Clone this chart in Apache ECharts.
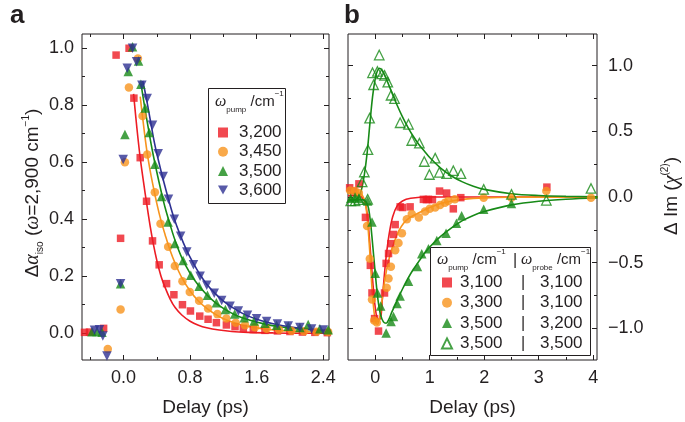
<!DOCTYPE html>
<html><head><meta charset="utf-8">
<script src="https://cdn.jsdelivr.net/npm/echarts@6/dist/echarts.min.js"></script>
<style>html,body{margin:0;padding:0;background:#fff}#c{width:685px;height:422px}</style>
</head><body><div id="c"></div><script>
// ---------------- DATA ----------------
// Panel a : Δα_iso, legend ω_pump /cm-1
const aNames = ['3,200', '3,450', '3,500', '3,600'];
const aRed = [[-0.47,0.003],[-0.41,0.004],[-0.24,0.017],[-0.09,0.976],[-0.036,0.333],[0.066,1.0],[0.124,0.825],[0.2,0.616],[0.276,0.463],[0.348,0.324],[0.428,0.24],[0.517,0.174],[0.605,0.135],[0.708,0.1],[0.804,0.078],[0.916,0.06],[1.016,0.049],[1.116,0.037],[1.236,0.029],[1.34,0.023],[1.44,0.017],[1.56,0.013],[1.7,0.01],[1.85,0.008],[2.0,0.006],[2.15,0.004],[2.3,0.003],[2.45,0.002]];
const aOrange = [[-0.19,-0.055],[-0.036,0.083],[0.016,0.6],[0.064,0.862],[0.172,0.964],[0.228,0.762],[0.284,0.627],[0.376,0.495],[0.444,0.384],[0.536,0.303],[0.616,0.236],[0.708,0.182],[0.796,0.145],[0.908,0.114],[1.016,0.087],[1.128,0.067],[1.236,0.052],[1.348,0.037],[1.46,0.028],[1.58,0.021],[1.72,0.016],[1.87,0.012],[2.02,0.009],[2.17,0.007],[2.32,0.005],[2.46,0.004]];
const aGreen = [[-0.38,0.005],[-0.32,0.006],[-0.26,0.003],[-0.036,0.174],[0.016,0.697],[0.056,0.918],[0.108,1.005],[0.18,0.955],[0.208,0.874],[0.26,0.79],[0.308,0.704],[0.376,0.593],[0.456,0.48],[0.536,0.39],[0.616,0.315],[0.716,0.255],[0.808,0.203],[0.908,0.165],[1.008,0.133],[1.116,0.107],[1.224,0.083],[1.336,0.067],[1.45,0.054],[1.57,0.043],[1.7,0.035],[1.84,0.028],[1.98,0.024],[2.12,0.02],[2.22,0.031],[2.36,0.016],[2.46,0.012]];
const aBlue = [[-0.35,0.01],[-0.29,0.012],[-0.25,-0.01],[-0.2,-0.08],[-0.036,0.174],[-0.005,0.61],[0.044,0.93],[0.108,1.0],[0.156,0.953],[0.22,0.87],[0.284,0.824],[0.348,0.73],[0.416,0.63],[0.476,0.55],[0.54,0.47],[0.61,0.4],[0.686,0.34],[0.76,0.285],[0.84,0.24],[0.92,0.2],[1.0,0.168],[1.09,0.14],[1.18,0.115],[1.28,0.095],[1.38,0.078],[1.49,0.063],[1.6,0.051],[1.72,0.041],[1.85,0.032],[1.98,0.025],[2.12,0.02],[2.26,0.015],[2.4,0.011]];
const aFitRed = [[0.12,0.84],[0.16,0.72],[0.2,0.615],[0.24,0.53],[0.28,0.45],[0.32,0.375],[0.36,0.31],[0.4,0.255],[0.45,0.2],[0.5,0.16],[0.56,0.12],[0.62,0.09],[0.7,0.064],[0.8,0.042],[0.9,0.028],[1.0,0.019],[1.15,0.011],[1.3,0.006],[1.5,0.003],[1.8,0.001],[2.1,0.0],[2.47,0.0]];
const aFitOrange = [[0.2,0.83],[0.24,0.73],[0.28,0.64],[0.32,0.57],[0.36,0.51],[0.4,0.455],[0.45,0.395],[0.5,0.345],[0.56,0.29],[0.62,0.245],[0.7,0.195],[0.8,0.148],[0.9,0.113],[1.0,0.087],[1.1,0.067],[1.2,0.051],[1.35,0.035],[1.5,0.024],[1.7,0.015],[1.9,0.009],[2.1,0.006],[2.3,0.004],[2.47,0.003]];
const aFitGreen = [[0.21,0.875],[0.25,0.8],[0.3,0.715],[0.35,0.635],[0.4,0.565],[0.45,0.5],[0.5,0.44],[0.56,0.38],[0.62,0.325],[0.7,0.265],[0.8,0.21],[0.9,0.168],[1.0,0.135],[1.1,0.108],[1.2,0.087],[1.35,0.063],[1.5,0.047],[1.7,0.032],[1.9,0.022],[2.1,0.015],[2.3,0.011],[2.47,0.008]];
const aFitBlue = [[0.23,0.885],[0.27,0.83],[0.32,0.75],[0.37,0.67],[0.42,0.605],[0.48,0.535],[0.54,0.47],[0.6,0.41],[0.68,0.345],[0.76,0.29],[0.84,0.245],[0.92,0.205],[1.0,0.172],[1.1,0.14],[1.2,0.113],[1.35,0.083],[1.5,0.06],[1.7,0.04],[1.9,0.027],[2.1,0.018],[2.3,0.012],[2.47,0.009]];

// Panel b : Δ Im(χ(2)), legend ω_pump | ω_probe
const bNames = ['3,100|3,100', '3,300|3,100', '3,500|3,200', '3,500|3,500'];
const bRed = [[-0.47,0.07],[-0.4,0.045],[-0.3,0.1],[-0.18,-0.155],[-0.09,-0.52],[-0.06,-0.73],[-0.012,-0.925],[0.06,-1.02],[0.17,-0.73],[0.2,-0.505],[0.244,-0.43],[0.287,-0.355],[0.335,-0.285],[0.366,-0.21],[0.457,-0.075],[0.5,-0.08],[0.64,-0.075],[0.884,-0.018],[0.94,-0.02],[0.976,-0.018],[1.05,-0.02],[1.18,0.045],[1.31,0.03],[1.433,-0.09],[1.57,-0.005],[3.15,0.075]];
const bOrange = [[-0.46,0.05],[-0.37,0.045],[-0.3,0.03],[-0.15,-0.22],[-0.1,-0.47],[-0.06,-0.78],[-0.02,-0.94],[0.03,-0.955],[0.21,-0.69],[0.244,-0.62],[0.287,-0.53],[0.366,-0.405],[0.427,-0.35],[0.49,-0.275],[0.58,-0.17],[0.67,-0.13],[0.8,-0.155],[0.915,-0.11],[1.0,-0.09],[1.1,-0.08],[1.19,-0.06],[1.28,-0.043],[1.34,-0.03],[1.46,-0.018],[1.99,-0.005],[2.5,-0.005],[3.14,0.045],[3.96,-0.005]];
const bGreen = [[-0.45,-0.01],[-0.37,0.0],[-0.3,-0.01],[-0.14,-0.03],[-0.06,-0.19],[0.0,-0.58],[0.04,-0.73],[0.1,-0.83],[0.2,-1.035],[0.29,-0.947],[0.335,-0.91],[0.4,-0.81],[0.457,-0.754],[0.61,-0.64],[0.774,-0.528],[0.854,-0.432],[0.976,-0.394],[1.13,-0.33],[1.3,-0.276],[1.49,-0.2],[1.585,-0.143],[1.99,-0.093],[2.5,-0.05]];
const bOpen = [[-0.45,-0.03],[-0.37,-0.03],[-0.3,-0.02],[-0.24,0.115],[-0.2,0.19],[-0.14,-0.018],[-0.134,0.36],[-0.104,0.6],[-0.05,0.945],[-0.03,0.854],[0.04,0.955],[0.073,1.08],[0.12,0.937],[0.17,0.925],[0.23,0.874],[0.29,0.774],[0.354,0.749],[0.457,0.565],[0.61,0.553],[0.67,0.43],[0.81,0.41],[0.9,0.27],[0.994,0.171],[1.1,0.296],[1.177,0.188],[1.31,0.178],[1.433,0.2],[1.573,0.178],[1.99,0.058],[2.5,0.02],[3.14,-0.025],[3.96,0.065]];
const bFitRed = [[-0.5,0.01],[-0.3,0.01],[-0.2,-0.03],[-0.15,-0.12],[-0.1,-0.35],[-0.05,-0.62],[0.0,-0.84],[0.05,-0.93],[0.09,-0.93],[0.13,-0.78],[0.17,-0.58],[0.21,-0.42],[0.26,-0.27],[0.32,-0.15],[0.4,-0.07],[0.5,-0.03],[0.65,-0.01],[1.0,0.0],[2.0,0.0],[4.08,0.0]];
const bFitOrange = [[-0.5,0.03],[-0.3,0.03],[-0.2,-0.02],[-0.15,-0.15],[-0.1,-0.42],[-0.05,-0.75],[0.0,-0.94],[0.04,-0.97],[0.08,-0.92],[0.12,-0.8],[0.17,-0.65],[0.22,-0.53],[0.28,-0.43],[0.35,-0.34],[0.43,-0.26],[0.52,-0.2],[0.62,-0.16],[0.75,-0.13],[0.9,-0.1],[1.0,-0.08],[1.2,-0.05],[1.4,-0.03],[1.6,-0.018],[2.0,-0.007],[2.5,-0.002],[4.08,0.0]];
const bFitGreen = [[-0.5,-0.02],[-0.25,-0.02],[-0.15,-0.05],[-0.1,-0.15],[-0.05,-0.35],[0.0,-0.58],[0.05,-0.78],[0.1,-0.9],[0.15,-0.95],[0.2,-0.96],[0.25,-0.93],[0.3,-0.88],[0.4,-0.79],[0.5,-0.7],[0.6,-0.62],[0.7,-0.55],[0.8,-0.49],[0.9,-0.43],[1.0,-0.38],[1.2,-0.3],[1.4,-0.235],[1.6,-0.18],[1.8,-0.14],[2.0,-0.11],[2.5,-0.06],[3.0,-0.032],[3.5,-0.017],[4.08,-0.008]];
const bFitOpen = [[-0.5,-0.03],[-0.35,-0.02],[-0.3,0.0],[-0.25,0.06],[-0.2,0.17],[-0.15,0.33],[-0.1,0.55],[-0.05,0.76],[0.0,0.9],[0.04,0.96],[0.08,0.98],[0.13,0.96],[0.2,0.9],[0.3,0.8],[0.4,0.7],[0.5,0.61],[0.6,0.53],[0.7,0.46],[0.8,0.4],[0.9,0.35],[1.0,0.3],[1.2,0.22],[1.4,0.16],[1.6,0.115],[1.8,0.082],[2.0,0.058],[2.5,0.025],[3.0,0.011],[3.5,0.005],[4.08,0.002]];

// Tick values
const aXTicks = [0, 0.8, 1.6, 2.4];
const aXMinor = [-0.4, 0.4, 1.2, 2.0];
const aYTicks = [0, 0.2, 0.4, 0.6, 0.8, 1.0];
const aYMinor = [0.1, 0.3, 0.5, 0.7, 0.9];
const bXTicks = [0, 1, 2, 3, 4];
const bXMinor = [0.5, 1.5, 2.5, 3.5];
const bYTicks = [-1, -0.5, 0, 0.5, 1];
const bYMinor = [-0.75, -0.25, 0.25, 0.75];

// ---------------- CHART ----------------
const FONT = '"Liberation Sans", Arial, Helvetica, sans-serif';
const SERIF = '"Liberation Serif", "Times New Roman", serif';
const INK = '#231f20';
const C = { red: '#ed1c24', orange: '#f7941d', green: '#178a17', blue: '#2e3192' };
const aRange = { xmin: -0.5, xmax: 2.47, ymin: -0.094, ymax: 1.05 };
const bRange = { xmin: -0.5, xmax: 4.07, ymin: -1.24, ymax: 1.24 };
const minus = v => String(v).replace('-', '\u2212');
const DOWN_TRI = 'path://M0,0L10,0L5,9Z';

function ax(grid, pos, min, max, vals, len, lab) {
  const o = {
    type: 'value', gridIndex: grid, position: pos, min: min, max: max,
    axisLine: { show: false, onZero: false },
    splitLine: { show: false },
    axisTick: { show: true, inside: true, length: len, customValues: vals, lineStyle: { color: INK, width: 1 } },
    axisLabel: { show: false }
  };
  if (lab) {
    o.axisLabel = { show: true, customValues: vals, formatter: lab.fmt, fontSize: 18, color: INK, fontFamily: FONT, margin: lab.margin };
    if (lab.name) {
      o.name = lab.name; o.nameLocation = 'middle'; o.nameGap = lab.gap;
      o.nameTextStyle = { fontSize: 19, color: INK, fontFamily: FONT };
    }
  }
  return o;
}
const f1 = v => minus(v.toFixed(1));
const f0 = v => String(v);

const xAxis = [
  ax(0, 'bottom', aRange.xmin, aRange.xmax, aXTicks, 5, { fmt: f1, margin: 9, name: 'Delay (ps)', gap: 38 }),
  ax(0, 'bottom', aRange.xmin, aRange.xmax, aXMinor, 3),
  ax(0, 'top', aRange.xmin, aRange.xmax, aXTicks, 5),
  ax(0, 'top', aRange.xmin, aRange.xmax, aXMinor, 3),
  ax(1, 'bottom', bRange.xmin, bRange.xmax, bXTicks, 5, { fmt: f0, margin: 9, name: 'Delay (ps)', gap: 38 }),
  ax(1, 'bottom', bRange.xmin, bRange.xmax, bXMinor, 3),
  ax(1, 'top', bRange.xmin, bRange.xmax, bXTicks, 5),
  ax(1, 'top', bRange.xmin, bRange.xmax, bXMinor, 3)
];
const yAxis = [
  ax(0, 'left', aRange.ymin, aRange.ymax, aYTicks, 5, { fmt: f1, margin: 8 }),
  ax(0, 'left', aRange.ymin, aRange.ymax, aYMinor, 3),
  ax(0, 'right', aRange.ymin, aRange.ymax, aYTicks, 5),
  ax(0, 'right', aRange.ymin, aRange.ymax, aYMinor, 3),
  ax(1, 'right', bRange.ymin, bRange.ymax, bYTicks, 5, { fmt: f1, margin: 11 }),
  ax(1, 'right', bRange.ymin, bRange.ymax, bYMinor, 3),
  ax(1, 'left', bRange.ymin, bRange.ymax, bYTicks, 5),
  ax(1, 'left', bRange.ymin, bRange.ymax, bYMinor, 3)
];

function sc(name, data, color, symbol, size, xi, yi, opts) {
  opts = opts || {};
  return {
    type: 'scatter', name: name, data: data, xAxisIndex: xi, yAxisIndex: yi,
    symbol: symbol, symbolSize: size, symbolRotate: opts.rot || 0, z: 3,
    itemStyle: opts.open ? { color: 'rgba(255,255,255,0)', borderColor: color, borderWidth: 1.3 } : { color: color },
    emphasis: { disabled: true }
  };
}
function fit(data, color, xi, yi) {
  return {
    type: 'line', data: data, xAxisIndex: xi, yAxisIndex: yi, showSymbol: false, symbol: 'none',
    smooth: 0.35, z: 2, lineStyle: { color: color, width: 1.6 }, emphasis: { disabled: true }
  };
}

const series = [
  fit(aFitRed, C.red, 0, 0), fit(aFitOrange, C.orange, 0, 0), fit(aFitGreen, C.green, 0, 0), fit(aFitBlue, C.blue, 0, 0),
  sc(aNames[0], aRed, C.red, 'rect', 7.5, 0, 0),
  sc(aNames[1], aOrange, C.orange, 'circle', 8.5, 0, 0),
  sc(aNames[2], aGreen, C.green, 'triangle', 9.5, 0, 0),
  sc(aNames[3], aBlue, C.blue, 'triangle', 9.5, 0, 0, { rot: 180 }),
  fit(bFitRed, C.red, 4, 4), fit(bFitOrange, C.orange, 4, 4), fit(bFitGreen, C.green, 4, 4), fit(bFitOpen, C.green, 4, 4),
  sc(bNames[0], bRed, C.red, 'rect', 7.5, 4, 4),
  sc(bNames[1], bOrange, C.orange, 'circle', 8.5, 4, 4),
  sc(bNames[2], bGreen, C.green, 'triangle', 9.5, 4, 4),
  sc(bNames[3], bOpen, C.green, 'triangle', 9.5, 4, 4, { open: true })
];

const richTitle = (fs) => ({
  m: { fontSize: fs, fontFamily: FONT, color: INK, lineHeight: 24 },
  i: { fontSize: fs + 1, fontFamily: SERIF, fontStyle: 'italic', color: INK, lineHeight: 24 },
  s: { fontSize: Math.round(fs * 0.55), fontFamily: FONT, color: INK, lineHeight: 10, verticalAlign: 'bottom' },
  p: { fontSize: Math.round(fs * 0.55), fontFamily: FONT, color: INK, lineHeight: 12, verticalAlign: 'top' }
});

function txt(x, y, text, rich, opts) {
  opts = opts || {};
  return {
    type: 'text', x: x, y: y, rotation: opts.rot || 0, z: 10,
    style: {
      text: text, rich: rich, fill: INK, font: opts.font || ('18px ' + FONT),
      align: opts.align || 'left', textAlign: opts.align || 'left',
      verticalAlign: 'middle', textVerticalAlign: 'middle'
    }
  };
}

const graphic = [
  txt(10, 16, 'a', null, { font: 'bold 26px ' + FONT }),
  txt(344, 16, 'b', null, { font: 'bold 26px ' + FONT }),
  txt(33, 193, '{m|\u0394}{i|\u03b1}{s|iso}{m| (}{i|\u03c9}{m|=2,900 cm}{p|\u22121}{m|)}', richTitle(19), { rot: Math.PI / 2, align: 'center' }),
  txt(672, 196, '{m|\u0394 Im (}{i|\u03c7}{p|(2)}{m|)}', richTitle(19), { rot: Math.PI / 2, align: 'center' }),
  { type: 'rect', z: 5, shape: { x: 208.5, y: 88.5, width: 77, height: 115 }, style: { fill: '#fff', stroke: INK, lineWidth: 1 } },
  { type: 'rect', z: 5, shape: { x: 430.5, y: 247.5, width: 160, height: 108 }, style: { fill: '#fff', stroke: INK, lineWidth: 1 } },
  txt(215, 102, '{i|\u03c9}{s|pump}{m| /cm}{p|\u22121}', richTitle(15)),
  txt(437, 260, '{i|\u03c9}{s|pump}{m| /cm}{p|\u22121}', richTitle(15)),
  txt(515, 261, '|', null, { font: '16px ' + FONT, align: 'center' }),
  txt(521, 260, '{i|\u03c9}{s|probe}{m| /cm}{p|\u22121}', richTitle(15))
];

const legendText = { fontSize: 17, fontFamily: FONT, color: INK, lineHeight: 16, padding: [0, 0, 0, 6] };
const legend = [
  { data: [aNames[0], aNames[1], aNames[2], { name: aNames[3], icon: DOWN_TRI }],
    orient: 'vertical', left: 213, top: 119, itemWidth: 10, itemHeight: 10, itemGap: 2.2,
    selectedMode: false, z: 8, textStyle: legendText },
  { data: bNames, orient: 'vertical', left: 436, top: 269, itemWidth: 10, itemHeight: 10, itemGap: 3.3,
    selectedMode: false, z: 8,
    formatter: function (n) { const p = n.split('|'); return '{p|' + p[0] + '}{d||}{q|' + p[1] + '}'; },
    textStyle: Object.assign({}, legendText, {
      padding: [0, 0, 0, 3],
      rich: {
        p: { fontSize: 17, fontFamily: FONT, color: INK, width: 56 },
        d: { fontSize: 16, fontFamily: FONT, color: INK, width: 14, align: 'center' },
        q: { fontSize: 17, fontFamily: FONT, color: INK, padding: [0, 0, 0, 10] }
      }
    }) }
];

const option = {
  animation: false,
  backgroundColor: '#fff',
  grid: [
    { left: 82, top: 34, width: 247, height: 327, show: true, borderColor: INK, borderWidth: 1, backgroundColor: 'transparent' },
    { left: 348, top: 34, width: 249, height: 327, show: true, borderColor: INK, borderWidth: 1, backgroundColor: 'transparent' }
  ],
  xAxis: xAxis, yAxis: yAxis, series: series, legend: legend, graphic: graphic
};
const chart = echarts.init(document.getElementById('c'), null, { renderer: 'canvas' });
chart.setOption(option);
</script></body></html>
